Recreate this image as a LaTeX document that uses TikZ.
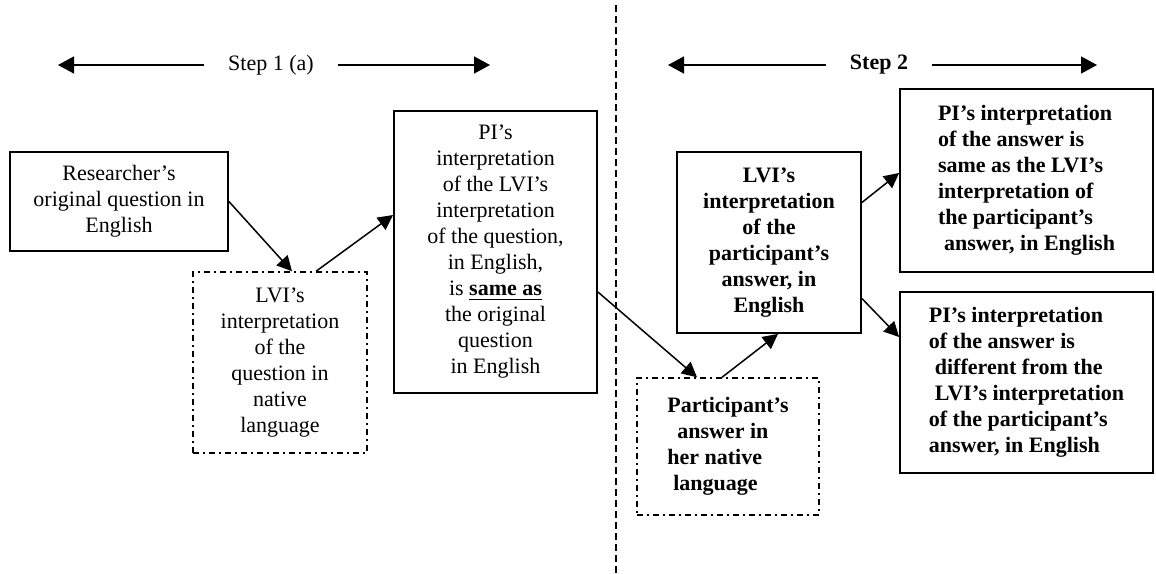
\documentclass[tikz,border=0pt]{standalone}
\usepackage{fontspec}
\setmainfont{Liberation Serif}
\usepackage{tikz}
\usetikzlibrary{arrows.meta}

\tikzset{
  box/.style={draw, line width=0.9pt, align=center, inner sep=2pt,
    font=\fontsize{11}{13}\selectfont},
  dotbox/.style={box, line width=0.7pt, dash pattern=on 3pt off 2pt on 1pt off 2pt},
  steplabel/.style={inner xsep=12pt, font=\fontsize{11}{13}\selectfont},
  arr/.style={line width=0.75pt, -{Triangle[length=7.5pt,width=7.5pt]}}
}

\begin{document}
\begin{tikzpicture}[x=0.5pt, y=-0.5pt]
 \useasboundingbox (0,0) rectangle (1156,573);
 % step headings
 \node[steplabel] (step1) at (271,65) {Step 1 (a)};
 \node[steplabel, font=\fontsize{11}{13}\selectfont\bfseries] (step2) at (879,65) {Step 2};
 \coordinate (s1l) at (58,65);
 \coordinate (s1r) at (490,65);
 \coordinate (s2l) at (668,65);
 \coordinate (s2r) at (1097,65);
 \draw [arr, -{Triangle[length=8pt,width=8.5pt]}] (step1) -- (s1l);
 \draw [arr, -{Triangle[length=8pt,width=8.5pt]}] (step1) -- (s1r);
 \draw [arr, -{Triangle[length=8pt,width=8.5pt]}] (step2) -- (s2l);
 \draw [arr, -{Triangle[length=8pt,width=8.5pt]}] (step2) -- (s2r);
 \draw [line width=0.7pt, dash pattern=on 3.5pt off 2pt] (616,5) -- (616,573);

 % step 1 boxes
 \node[box, minimum width=109pt, minimum height=49.5pt] (res) at (119,201.5)
   {Researcher's\\ original question in\\ English};
 \node[dotbox, minimum width=87pt, minimum height=90.5pt] (lvq) at (280,362.5)
   {LVI's\\ interpretation\\ of the\\ question in\\ native\\ language};
 \node[box, minimum width=101.5pt, minimum height=141pt] (pis) at (495.5,252)
   {PI's\\ interpretation\\ of the LVI's\\ interpretation\\ of the question,\\ in English,\\
    is \underline{\textbf{same as}}\\ the original\\ question\\ in English};

 % step 2 boxes
 \node[dotbox, font=\fontsize{11}{13}\selectfont\bfseries, align=left,
   minimum width=91pt, minimum height=68.5pt] (par) at (728,446.5)
   {Participant's\\ \hspace*{5pt}answer in\\ her native\\ \hspace*{3pt}language};
 \node[box, font=\fontsize{11}{13}\selectfont\bfseries,
   minimum width=92pt, minimum height=90.5pt] (lva) at (769,242.5)
   {LVI's\\ interpretation\\ of the\\ participant's\\ answer, in\\ English};
 \node[box, font=\fontsize{11}{13}\selectfont\bfseries, align=left,
   minimum width=126.5pt, minimum height=91.5pt] (same) at (1026.5,180.5)
   {PI's interpretation\\ of the answer is\\ same as the LVI's\\ interpretation of\\
    the participant's\\ \hspace*{3pt}answer, in English};
 \node[box, font=\fontsize{11}{13}\selectfont\bfseries, align=left,
   minimum width=126.5pt, minimum height=90.5pt] (diff) at (1026.5,382.5)
   {PI's interpretation\\ of the answer is\\ \hspace*{3pt}different from the\\
    \hspace*{3pt}LVI's interpretation\\ of the participant's\\ answer, in English};

 % connectors
 \draw [arr] (res.east) -- ([xshift=6pt]lvq.north);
 \draw [arr] ([xshift=18pt]lvq.north) -- ([yshift=18.5pt]pis.west);
 \draw [arr] ([yshift=-20pt]pis.east) -- ([xshift=-15.5pt]par.north);
 \draw [arr] ([xshift=-3pt]par.north) -- ([xshift=4.5pt]lva.south);
 \draw [arr] ([yshift=20pt]lva.east) -- ([yshift=3.75pt]same.west);
 \draw [arr] ([yshift=-28pt]lva.east) -- ([yshift=22.75pt]diff.west);
\end{tikzpicture}
\end{document}
